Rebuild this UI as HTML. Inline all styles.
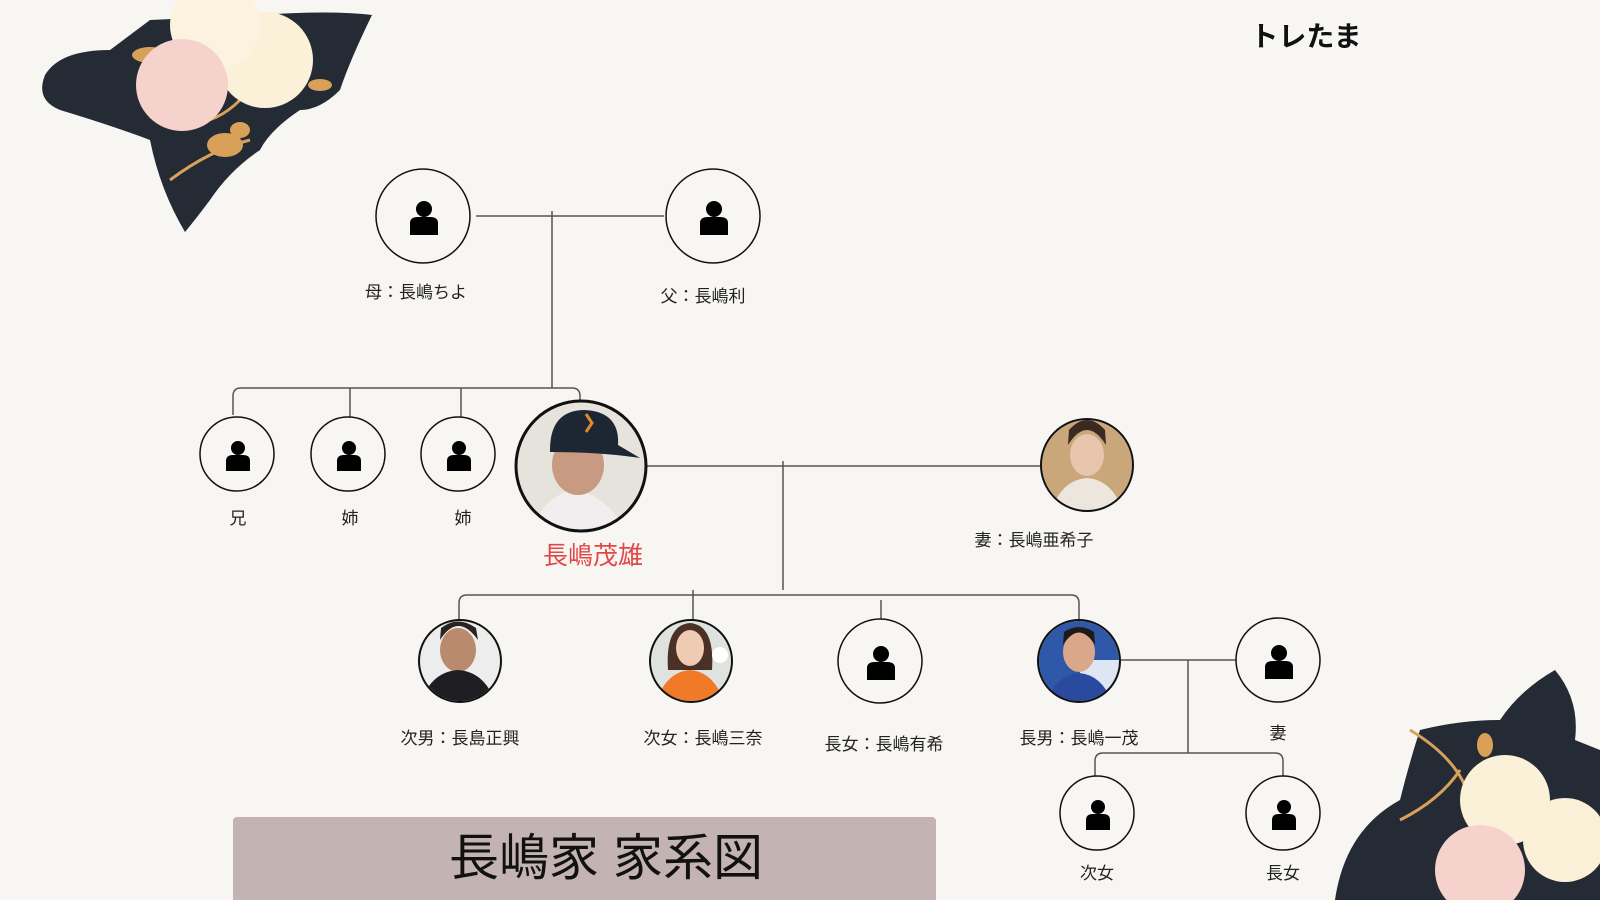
<!DOCTYPE html>
<html><head><meta charset="utf-8"><style>
html,body{margin:0;padding:0;background:#f8f6f3;}
svg{display:block}
text{font-family:"Liberation Sans","Noto Sans CJK JP",sans-serif;}
</style></head><body>
<svg width="1600" height="900" viewBox="0 0 1600 900" xmlns="http://www.w3.org/2000/svg">
<defs>
<g id="p"><circle cx="0" cy="-11" r="8" fill="#000"/><path d="M-14,15 L-14,3 Q-14,-3 -6,-3 L6,-3 Q14,-3 14,3 L14,15 Z" fill="#000"/></g>
<g id="ps"><circle cx="0" cy="-10" r="7" fill="#000"/><path d="M-12,13 L-12,3 Q-12,-3 -5,-3 L5,-3 Q12,-3 12,3 L12,13 Z" fill="#000"/></g>
<clipPath id="c1"><circle cx="581" cy="466" r="64"/></clipPath>
<clipPath id="c2"><circle cx="1087" cy="465" r="45"/></clipPath>
<clipPath id="c3"><circle cx="460" cy="661" r="40"/></clipPath>
<clipPath id="c4"><circle cx="691" cy="661" r="40"/></clipPath>
<clipPath id="c5"><circle cx="1079" cy="661" r="40"/></clipPath>
</defs>
<rect width="1600" height="900" fill="#f8f6f3"/>

<!-- top-left flowers -->
<path d="M45,75 Q60,50 110,50 L150,20 L260,15 Q330,10 372,15 Q350,60 340,90 Q320,110 300,110 Q270,130 260,150 Q230,170 210,200 Q195,220 185,232 Q160,190 150,140 Q110,125 60,110 Q35,100 45,75 Z" fill="#252b35"/>
<path d="M150,110 Q200,140 240,100" stroke="#d9a05a" stroke-width="3" fill="none"/>
<path d="M170,180 Q210,150 250,140" stroke="#d9a05a" stroke-width="3" fill="none"/>
<ellipse cx="225" cy="145" rx="18" ry="12" fill="#d9a05a"/>
<ellipse cx="240" cy="130" rx="10" ry="8" fill="#d9a05a"/>
<ellipse cx="150" cy="55" rx="18" ry="8" fill="#d9a05a"/>
<ellipse cx="320" cy="85" rx="12" ry="6" fill="#d9a05a"/>
<circle cx="265" cy="60" r="48" fill="#fbf1d8"/>
<circle cx="215" cy="25" r="45" fill="#fbf3e0"/>
<circle cx="182" cy="85" r="46" fill="#f5d2cc"/>

<!-- bottom-right flowers -->
<path d="M1335,900 Q1345,830 1400,800 Q1410,760 1420,730 Q1460,720 1500,720 Q1520,690 1555,670 Q1580,700 1575,740 L1600,750 L1600,900 Z" fill="#252b35"/>
<path d="M1410,730 Q1460,760 1470,800" stroke="#d9a05a" stroke-width="3" fill="none"/>
<path d="M1400,820 Q1440,800 1460,770" stroke="#d9a05a" stroke-width="3" fill="none"/>
<ellipse cx="1485" cy="745" rx="8" ry="12" fill="#d9a05a"/>
<circle cx="1505" cy="800" r="45" fill="#fbf1d8"/>
<circle cx="1565" cy="840" r="42" fill="#faf0d8"/>
<circle cx="1480" cy="870" r="45" fill="#f5d2cc"/>

<!-- logo -->
<text x="1306" y="46" font-size="28" font-weight="bold" text-anchor="middle" fill="#111" stroke="#fff" stroke-width="1" style="paint-order:stroke">トレたま</text>

<!-- lines -->
<g stroke="#555" stroke-width="1.5" fill="none">
<path d="M476,216 H664"/>
<path d="M552,211 V388"/>
<path d="M233,415 V396 Q233,388 241,388 H572 Q580,388 580,396 V402"/>
<path d="M350,388 V417 M461,388 V417"/>
<path d="M647,466 H1041"/>
<path d="M783,461 V590"/>
<path d="M459,620 V603 Q459,595 467,595 H1071 Q1079,595 1079,603 V621"/>
<path d="M693,590 V620 M881,600 V620"/>
<path d="M1120,660 H1237"/>
<path d="M1188,660 V753"/>
<path d="M1095,777 V761 Q1095,753 1103,753 H1275 Q1283,753 1283,761 V776"/>
</g>

<g stroke="#111" stroke-width="1.5" fill="#f8f6f3">
<circle cx="423" cy="216" r="47"/><circle cx="713" cy="216" r="47"/>
<circle cx="237" cy="454" r="37"/><circle cx="348" cy="454" r="37"/><circle cx="458" cy="454" r="37"/>
<circle cx="880" cy="661" r="42"/><circle cx="1278" cy="660" r="42"/>
<circle cx="1097" cy="813" r="37"/><circle cx="1283" cy="813" r="37"/>
</g>
<use href="#p" x="424" y="220"/><use href="#p" x="714" y="220"/>
<use href="#ps" x="238" y="458"/><use href="#ps" x="349" y="458"/><use href="#ps" x="459" y="458"/>
<use href="#p" x="881" y="665"/><use href="#p" x="1279" y="664"/>
<use href="#ps" x="1098" y="817"/><use href="#ps" x="1284" y="817"/>

<!-- Shigeo photo -->
<g clip-path="url(#c1)">
<rect x="510" y="395" width="145" height="140" fill="#e6e2dc"/>
<path d="M530,540 Q540,495 575,490 Q610,495 630,540 Z" fill="#f0eeee"/>
<ellipse cx="578" cy="465" rx="26" ry="30" fill="#c99a82"/>
<path d="M550,450 Q550,410 585,410 Q620,412 618,445 L640,458 Q600,452 550,452 Z" fill="#1d2733"/>
<path d="M586,414 l6,9 l-6,9" stroke="#e08a2a" stroke-width="3" fill="none"/>
</g>
<circle cx="581" cy="466" r="65" fill="none" stroke="#111" stroke-width="3"/>

<g clip-path="url(#c2)">
<rect x="1040" y="418" width="95" height="95" fill="#c9a77a"/>
<ellipse cx="1087" cy="455" rx="17" ry="21" fill="#e8c6ad"/>
<path d="M1068,445 Q1087,415 1106,445 L1105,430 Q1087,410 1069,430 Z" fill="#3a2a22"/>
<path d="M1050,515 Q1060,480 1087,478 Q1114,480 1124,515 Z" fill="#ece6dc"/>
</g>
<circle cx="1087" cy="465" r="46" fill="none" stroke="#111" stroke-width="2"/>

<g clip-path="url(#c3)">
<rect x="418" y="620" width="85" height="85" fill="#ededed"/>
<ellipse cx="458" cy="650" rx="18" ry="22" fill="#b98a6e"/>
<path d="M440,640 Q458,612 478,640 L476,628 Q458,615 441,628 Z" fill="#2a2320"/>
<path d="M420,705 Q430,672 458,670 Q486,672 496,705 Z" fill="#1e1e22"/>
</g>
<circle cx="460" cy="661" r="41" fill="none" stroke="#111" stroke-width="2"/>
<g clip-path="url(#c4)">
<rect x="650" y="620" width="85" height="85" fill="#dfe3df"/>
<path d="M668,670 Q665,625 690,623 Q715,625 712,670 Z" fill="#4a3026"/>
<ellipse cx="690" cy="648" rx="14" ry="18" fill="#efcbb3"/>
<path d="M655,705 Q665,672 690,670 Q715,672 725,705 Z" fill="#f07a28"/>
<circle cx="720" cy="655" r="8" fill="#fff"/>
</g>
<circle cx="691" cy="661" r="41" fill="none" stroke="#111" stroke-width="2"/>
<g clip-path="url(#c5)">
<rect x="1037" y="620" width="85" height="85" fill="#2f58a8"/>
<rect x="1080" y="660" width="40" height="45" fill="#dfe6f3"/>
<ellipse cx="1079" cy="652" rx="16" ry="20" fill="#d9a88a"/>
<path d="M1063,645 Q1079,620 1095,645 L1094,632 Q1079,622 1064,632 Z" fill="#1f1a18"/>
<path d="M1045,705 Q1055,675 1079,673 Q1103,675 1113,705 Z" fill="#2a4aa0"/>
</g>
<circle cx="1079" cy="661" r="41" fill="none" stroke="#111" stroke-width="2"/>

<g font-size="17" fill="#222" text-anchor="middle">
<text x="416" y="298">母：長嶋ちよ</text>
<text x="703" y="302">父：長嶋利</text>
<text x="238" y="524">兄</text>
<text x="350" y="524">姉</text>
<text x="463" y="524">姉</text>
<text x="1034" y="546">妻：長嶋亜希子</text>
<text x="460" y="744">次男：長島正興</text>
<text x="703" y="744">次女：長嶋三奈</text>
<text x="884" y="750">長女：長嶋有希</text>
<text x="1079" y="744">長男：長嶋一茂</text>
<text x="1278" y="739">妻</text>
<text x="1097" y="879">次女</text>
<text x="1283" y="879">長女</text>
</g>
<text x="593" y="564" font-size="25" fill="#e04848" text-anchor="middle">長嶋茂雄</text>

<rect x="233" y="817" width="703" height="95" rx="4" fill="#c4b3b3"/>
<text x="606" y="875" font-size="50" fill="#111" text-anchor="middle">長嶋家 家系図</text>
</svg>
</body></html>
